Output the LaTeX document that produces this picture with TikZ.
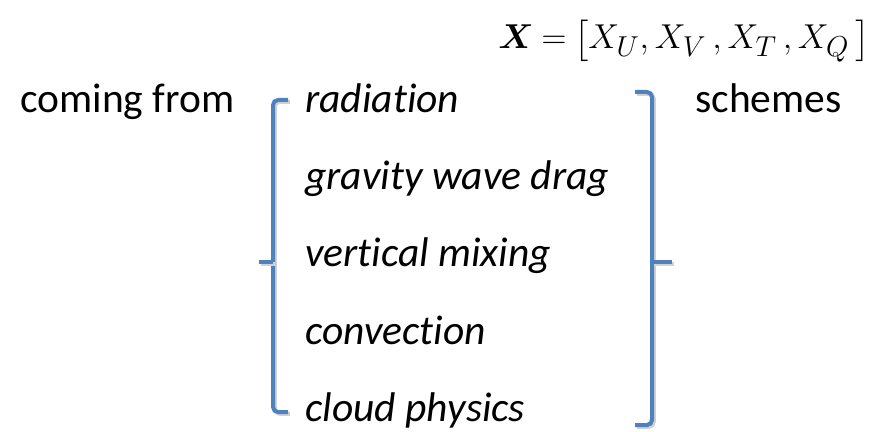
\documentclass[tikz,border=0pt]{standalone}
\usepackage{amsmath,bm}
\usepackage{fontspec}
\setmainfont{Carlito}[Ligatures=NoCommon]
\usetikzlibrary{positioning}
\definecolor{bracketblue}{RGB}{79,129,189}

\begin{document}
\begin{tikzpicture}[
            x=0.5pt, y=-0.5pt,
            txt/.style = {anchor=base west, inner sep=0pt, font=\fontsize{20.75}{24}\selectfont},
            item/.style = {txt, font=\fontsize{20.75}{24}\selectfont\itshape},
            eqn/.style = {inner sep=0pt, anchor=base east, font=\fontsize{19}{23}\selectfont},
            brace/.style = {draw=bracketblue, line width=2pt, rounded corners=2.5pt,
                preaction={draw=black!18, line width=2pt, transform canvas={shift={(0.9pt,-0.9pt)}}}}
        ]
        \useasboundingbox (0,0) rectangle (887,432);

        % Vector of tendencies
        \node [eqn] (vec) at (870,49) {$\medmuskip=2mu \thickmuskip=4mu \boldsymbol{X} = \bigl[X_U, X_V\,, X_T\,, X_Q\,\bigr]$};

        % Left and right words
        \node [txt] (from) at (20,113) {coming from};
        \node [txt] (schemes) at (695,113) {schemes};

        % Parametrised processes
        \node [item] (rad) at (305,113) {radiation};
        \node [item] (gwd) at (305,190) {gravity wave drag};
        \node [item] (mix) at (305,267) {vertical mixing};
        \node [item] (conv) at (305,344) {convection};
        \node [item] (cloud) at (305,421) {cloud physics};

        % Brackets
        \draw [brace] (288,100) -- (273,100) -- (273,412) -- (288,412);
        \draw [brace, rounded corners=0pt] (273,262) -- (259,262);
        \draw [brace] (635,92) -- (652,92) -- (652,425) -- (635,425);
        \draw [brace, rounded corners=0pt] (652,262) -- (672,262);

    \end{tikzpicture}
\end{document}
